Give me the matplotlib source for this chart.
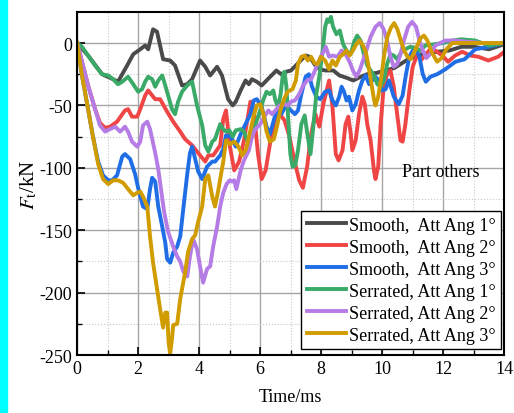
import matplotlib
matplotlib.use("Agg")
import matplotlib.pyplot as plt
import numpy as np
from matplotlib.patches import Rectangle

plt.rcParams['font.family'] = ['Liberation Serif', 'DejaVu Serif']
plt.rcParams['mathtext.fontset'] = 'stix'
plt.rcParams['axes.unicode_minus'] = False

# (time ms, force kN)
smooth_1 = np.array([
    [0, 0], [0.36, -10], [0.82, -25], [1.18, -29], [1.34, -31], [1.64, -18], [1.84, -9],
    [2.07, -5], [2.23, -2], [2.33, -5], [2.49, 11], [2.62, 9], [2.82, -13], [3.05, -14],
    [3.21, -18], [3.44, -34], [3.61, -33], [3.77, -29], [4.03, -14], [4.2, -19], [4.36, -26],
    [4.59, -19], [4.75, -26], [4.95, -45], [5.1, -50], [5.2, -47], [5.36, -38], [5.52, -30],
    [5.63, -33], [5.73, -29], [5.89, -31], [6.05, -34], [6.21, -30], [6.37, -26], [6.53, -22],
    [6.69, -25], [6.85, -23], [7.01, -22], [7.17, -18], [7.33, -14], [7.49, -10], [7.63, -11],
    [7.78, -17], [7.95, -21], [8.13, -22], [8.4, -22], [8.6, -26], [8.85, -28], [9.05, -30],
    [9.3, -27], [9.5, -25], [9.8, -24], [10.1, -22], [10.4, -20], [10.85, -13], [11.3, -9],
    [11.8, -7], [12.2, -6], [12.6, -3], [13.0, -3], [13.5, -5], [14, -1]])

smooth_2 = np.array([
    [0, 0], [0.16, -15], [0.36, -34], [0.59, -53], [0.75, -64], [0.92, -68], [1.08, -67],
    [1.31, -63], [1.57, -54], [1.67, -53], [1.8, -59], [1.97, -59], [2.07, -53], [2.23, -42],
    [2.33, -38], [2.46, -42], [2.56, -45], [2.72, -45], [2.95, -55], [3.15, -63], [3.38, -71],
    [3.54, -77], [3.77, -82], [4.03, -90], [4.2, -95], [4.3, -90], [4.46, -90], [4.69, -82],
    [4.79, -61], [4.88, -54], [5.01, -83], [5.15, -102], [5.31, -95], [5.47, -78], [5.68, -47],
    [5.79, -54], [5.93, -89], [6.05, -109], [6.18, -102], [6.32, -81], [6.48, -62], [6.64, -57],
    [6.8, -62], [6.96, -75], [7.12, -94], [7.28, -110], [7.4, -116], [7.54, -99], [7.67, -73],
    [7.81, -57], [7.94, -67], [8.07, -49], [8.18, -38], [8.26, -30], [8.37, -51], [8.48, -89],
    [8.57, -94], [8.7, -86], [8.8, -65], [8.89, -59], [8.97, -73], [9.02, -86], [9.13, -78],
    [9.24, -57], [9.35, -43], [9.43, -49], [9.51, -65], [9.62, -78], [9.73, -102], [9.78, -109],
    [9.87, -99], [9.95, -65], [10.05, -35], [10.16, -25], [10.27, -22], [10.38, -35],
    [10.49, -57], [10.6, -78], [10.67, -79], [10.76, -65], [10.89, -38], [11.0, -19],
    [11.14, -10], [11.3, -13], [11.57, -5], [11.74, -6], [11.97, -10], [12.16, -15],
    [12.39, -10], [12.62, -7], [12.89, -10], [13.15, -11], [13.48, -14], [13.8, -11], [14.0, -7]])

smooth_3 = np.array([
    [0, 0], [0.16, -26], [0.36, -53], [0.52, -75], [0.69, -95], [0.85, -106], [1.02, -110],
    [1.15, -110], [1.31, -106], [1.48, -91], [1.57, -89], [1.74, -93], [1.9, -105], [2.0, -116],
    [2.16, -131], [2.3, -133], [2.39, -117], [2.46, -108], [2.56, -111], [2.66, -131],
    [2.79, -147], [2.89, -160], [2.95, -173], [3.05, -176], [3.15, -168], [3.28, -163],
    [3.38, -155], [3.48, -133], [3.61, -105], [3.7, -88], [3.77, -83], [3.87, -93], [3.97, -103],
    [4.1, -109], [4.26, -99], [4.43, -95], [4.52, -95], [4.69, -90], [4.79, -85], [4.88, -74],
    [5.04, -75], [5.2, -83], [5.36, -73], [5.52, -65], [5.68, -57], [5.79, -46], [5.89, -45],
    [6.05, -51], [6.21, -67], [6.32, -73], [6.48, -59], [6.59, -54], [6.69, -57], [6.85, -50],
    [7.01, -54], [7.14, -57], [7.24, -54], [7.35, -41], [7.49, -27], [7.6, -25], [7.7, -35],
    [7.84, -43], [7.97, -45], [8.13, -39], [8.26, -38], [8.37, -46], [8.48, -50], [8.59, -43],
    [8.67, -35], [8.75, -39], [8.83, -46], [8.91, -43], [9.02, -54], [9.13, -49], [9.24, -38],
    [9.35, -30], [9.46, -26], [9.57, -33], [9.67, -30], [9.78, -27], [9.89, -30], [10.0, -38],
    [10.11, -37], [10.22, -30], [10.38, -43], [10.54, -49], [10.67, -42], [10.78, -25],
    [10.89, -11], [11.0, -6], [11.11, -5], [11.22, -11], [11.33, -25], [11.43, -31],
    [11.58, -27], [11.8, -25], [12.07, -21], [12.4, -15], [12.7, -13], [13.05, -5],
    [13.5, -3], [14, 0]])

serrated_1 = np.array([
    [0, 0], [0.16, -3], [0.36, -10], [0.59, -18], [0.82, -25], [1.02, -26], [1.18, -29],
    [1.34, -33], [1.48, -31], [1.67, -27], [1.84, -33], [2.0, -39], [2.13, -37], [2.23, -31],
    [2.33, -27], [2.46, -29], [2.56, -35], [2.66, -30], [2.79, -26], [2.89, -34], [3.11, -53],
    [3.21, -57], [3.31, -47], [3.44, -39], [3.61, -34], [3.77, -31], [3.93, -50], [4.1, -66],
    [4.2, -82], [4.3, -87], [4.43, -79], [4.52, -77], [4.69, -65], [4.79, -69], [4.88, -71],
    [4.99, -70], [5.1, -75], [5.2, -70], [5.36, -69], [5.47, -71], [5.57, -78], [5.68, -79],
    [5.79, -70], [5.89, -62], [6.0, -54], [6.11, -45], [6.21, -39], [6.32, -41], [6.43, -38],
    [6.5, -46], [6.59, -51], [6.67, -41], [6.74, -26], [6.8, -23], [6.86, -35], [6.93, -65],
    [6.99, -89], [7.06, -99], [7.15, -98], [7.24, -86], [7.35, -65], [7.46, -58], [7.56, -75],
    [7.65, -89], [7.73, -70], [7.84, -41], [7.95, -25], [8.05, -6], [8.13, 13], [8.2, 19],
    [8.26, 17], [8.32, 21], [8.39, 13], [8.5, 7], [8.61, 10], [8.72, -1], [8.83, -6],
    [8.97, -9], [9.08, 1], [9.18, 6], [9.29, 2], [9.4, -9], [9.51, -18], [9.62, -22],
    [9.73, -26], [9.84, -33], [9.95, -35], [10.05, -30], [10.16, -17], [10.27, -9],
    [10.38, -10], [10.49, -13], [10.63, -7], [10.76, -5], [10.92, -3], [11.09, -4],
    [11.25, -6], [11.41, -2], [11.7, -1], [12.0, 0], [12.3, 2], [12.6, 3], [13.05, 2],
    [13.5, -2], [14, 0]])

serrated_2 = np.array([
    [0, 0], [0.16, -15], [0.36, -34], [0.59, -53], [0.75, -66], [0.92, -71], [1.08, -69],
    [1.25, -67], [1.41, -71], [1.57, -67], [1.67, -71], [1.8, -79], [1.97, -83], [2.07, -79],
    [2.16, -66], [2.3, -63], [2.39, -69], [2.56, -88], [2.66, -101], [2.75, -117], [2.85, -135],
    [2.98, -151], [3.15, -163], [3.28, -171], [3.38, -175], [3.48, -183], [3.61, -187],
    [3.7, -171], [3.8, -157], [3.93, -165], [4.03, -179], [4.13, -192], [4.26, -181],
    [4.36, -179], [4.46, -163], [4.59, -147], [4.69, -131], [4.79, -120], [4.9, -113],
    [5.0, -110], [5.08, -111], [5.15, -110], [5.22, -117], [5.36, -102], [5.47, -94],
    [5.63, -86], [5.73, -75], [5.84, -69], [6.0, -65], [6.14, -59], [6.27, -54], [6.39, -57],
    [6.5, -54], [6.64, -50], [6.78, -49], [6.9, -50], [7.01, -47], [7.14, -46], [7.28, -41],
    [7.41, -34], [7.54, -30], [7.67, -29], [7.78, -23], [7.88, -17], [7.99, -11], [8.15, -3],
    [8.26, -11], [8.37, -10], [8.53, -11], [8.67, -6], [8.8, -9], [8.93, -15], [9.04, -22],
    [9.15, -27], [9.26, -22], [9.37, -14], [9.48, -6], [9.62, 5], [9.78, 13], [9.92, 16],
    [10.05, 11], [10.16, 2], [10.27, -11], [10.38, -19], [10.49, -17], [10.6, -9], [10.71, 2],
    [10.85, 13], [10.98, 17], [11.11, 13], [11.22, 2], [11.33, -6], [11.45, -12], [11.6, -8],
    [11.74, -2], [12.07, 2], [12.4, 2], [12.8, 1], [13.3, 0], [14, 0]])

serrated_3 = np.array([
    [0, 0], [0.16, -26], [0.36, -53], [0.52, -75], [0.69, -97], [0.85, -109], [1.02, -113],
    [1.18, -110], [1.34, -110], [1.51, -112], [1.67, -117], [1.84, -122], [1.97, -120],
    [2.07, -119], [2.16, -123], [2.3, -131], [2.39, -155], [2.49, -176], [2.62, -197],
    [2.72, -213], [2.82, -228], [2.89, -216], [2.95, -216], [3.0, -240], [3.05, -249],
    [3.11, -237], [3.15, -226], [3.28, -225], [3.38, -205], [3.44, -197], [3.54, -184],
    [3.64, -167], [3.77, -157], [3.87, -154], [3.97, -143], [4.1, -131], [4.2, -109],
    [4.3, -106], [4.43, -123], [4.52, -131], [4.62, -119], [4.79, -95], [4.88, -78],
    [5.01, -81], [5.15, -79], [5.29, -83], [5.41, -90], [5.54, -85], [5.68, -70], [5.79, -58],
    [5.89, -50], [6.0, -49], [6.11, -57], [6.21, -71], [6.32, -79], [6.45, -77], [6.55, -67],
    [6.66, -54], [6.78, -45], [6.9, -39], [7.06, -37], [7.17, -30], [7.24, -17], [7.35, -11],
    [7.46, -10], [7.56, -14], [7.67, -11], [7.78, -16], [7.88, -17], [7.99, -11], [8.13, -14],
    [8.26, -21], [8.37, -14], [8.48, -18], [8.61, -11], [8.72, -9], [8.83, -6], [8.93, -10],
    [9.04, -6], [9.15, -1], [9.26, 2], [9.37, -2], [9.46, -7], [9.54, -17], [9.63, -30],
    [9.73, -45], [9.78, -50], [9.87, -43], [9.96, -29], [10.07, -9], [10.17, 5], [10.28, 12],
    [10.39, 16], [10.5, 11], [10.61, 2], [10.72, -6], [10.83, -11], [10.93, -13], [11.04, -8],
    [11.15, -2], [11.26, 4], [11.37, 6], [11.48, 2], [11.62, -7], [11.8, -15], [11.95, -12],
    [12.1, -5], [12.3, 0], [14, 0]])

labels = ['Smooth,  Att Ang 1°', 'Smooth,  Att Ang 2°', 'Smooth,  Att Ang 3°',
          'Serrated, Att Ang 1°', 'Serrated, Att Ang 2°', 'Serrated, Att Ang 3°']
series = [smooth_1, smooth_2, smooth_3, serrated_1, serrated_2, serrated_3]
colors = ['#4a4a4a', '#f04545', '#1f6ee6', '#3aaa68', '#b57ce6', '#d19c00']

fig = plt.figure(figsize=(5.14, 4.14), dpi=100)
fig.patches.append(Rectangle((0, 0), 7 / 514, 1, transform=fig.transFigure,
                             color='#00ffff', zorder=0))
ax = fig.add_axes([0.150, 0.140, 0.831, 0.829])

for d, c, lab in zip(series, colors, labels):
    ax.plot(d[:, 0], d[:, 1], color=c, lw=2.8, label=lab, solid_joinstyle='round')

ax.set_xlim(0, 14)
ax.set_ylim(-250, 25)
ax.set_xticks(np.arange(0, 15, 2))
ax.set_xticks(np.arange(1, 14, 2), minor=True)
ax.set_yticks(np.arange(-250, 1, 50))
ax.set_yticks(np.arange(-225, 25, 50), minor=True)
ax.grid(which='major', color='#a6a6a6', lw=1.0, ls='-')
ax.grid(which='minor', color='#c8c8c8', lw=0.8, ls=':')
ax.set_axisbelow(True)
ax.tick_params(which='major', direction='in', length=6, width=1.2, labelsize=13)
ax.tick_params(which='minor', direction='in', length=3.5, width=1.0)
for s in ax.spines.values():
    s.set_linewidth(1.5)

ax.set_xlabel('Time/ms', fontsize=13, labelpad=8)
ax.set_ylabel(r'$F_{\mathrm{t}}$/kN', fontsize=15, labelpad=0)
ax.text(11.93, -103, 'Part others', fontsize=13, ha='center', va='center')

leg = ax.legend(loc='lower right', bbox_to_anchor=(0.993, 0.017), borderaxespad=0,
                fontsize=13, frameon=True, fancybox=False, edgecolor='black',
                framealpha=1, handlelength=2.2, handletextpad=0.15, labelspacing=0.28,
                borderpad=0.3)
leg.get_frame().set_linewidth(1.0)

plt.savefig('out.png', dpi=100)
